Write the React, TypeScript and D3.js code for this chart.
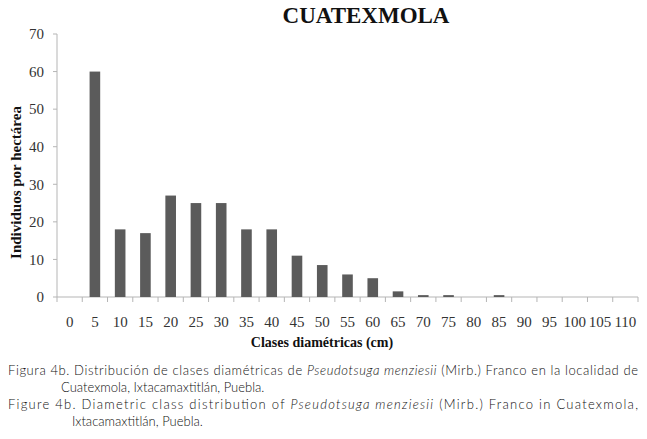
import { useEffect, useRef } from 'react';
import * as d3 from 'd3';

const classes = ['0', '5', '10', '15', '20', '25', '30', '35', '40', '45', '50', '55', '60', '65', '70', '75', '80', '85', '90', '95', '100', '105', '110'];
const individuals = [0, 60, 18, 17, 27, 25, 25, 18, 18, 11, 8.5, 6, 5, 1.5, 0.5, 0.5, 0, 0.5, 0, 0, 0, 0, 0];
const yTicks = [0, 10, 20, 30, 40, 50, 60, 70];

const W = 647;
const H = 439;
const serif = '"Liberation Serif", "DejaVu Serif", serif';
const sans = 'Lato, "Noto Sans", sans-serif';

export default function App() {
  const svgRef = useRef<SVGSVGElement>(null);

  useEffect(() => {
    if (!svgRef.current) return;
    const svg = d3.select(svgRef.current);
    svg.selectAll('*').remove();

    const left = 57;
    const right = 638;
    const top = 34;
    const bottom = 297;

    const x = d3.scaleBand<string>().domain(classes).range([left, right]).padding(0);
    const y = d3.scaleLinear().domain([0, 70]).range([bottom, top]);

    // title
    svg.append('text')
      .attr('x', 366)
      .attr('y', 23)
      .attr('text-anchor', 'middle')
      .attr('font-family', serif)
      .attr('font-weight', 'bold')
      .attr('font-size', 23)
      .attr('fill', '#111')
      .text('CUATEXMOLA');

    // y axis
    svg.append('line')
      .attr('x1', left).attr('x2', left)
      .attr('y1', top).attr('y2', bottom)
      .attr('stroke', '#b5b5b5');

    yTicks.forEach(t => {
      svg.append('line')
        .attr('x1', left - 4).attr('x2', left)
        .attr('y1', y(t)).attr('y2', y(t))
        .attr('stroke', '#b5b5b5');
      svg.append('text')
        .attr('x', left - 13)
        .attr('y', y(t))
        .attr('dy', '0.35em')
        .attr('text-anchor', 'end')
        .attr('font-family', serif)
        .attr('font-size', 15)
        .attr('fill', '#333')
        .text(t);
    });

    // x axis
    svg.append('line')
      .attr('x1', left).attr('x2', right)
      .attr('y1', bottom).attr('y2', bottom)
      .attr('stroke', '#b5b5b5');

    const bounds = classes.map(c => x(c) as number).concat([right]);
    bounds.forEach(b => {
      svg.append('line')
        .attr('x1', b).attr('x2', b)
        .attr('y1', bottom).attr('y2', bottom + 5)
        .attr('stroke', '#b5b5b5');
    });

    classes.forEach(c => {
      svg.append('text')
        .attr('x', (x(c) as number) + x.bandwidth() / 2)
        .attr('y', 327)
        .attr('text-anchor', 'middle')
        .attr('font-family', serif)
        .attr('font-size', 15)
        .attr('fill', '#333')
        .text(c);
    });

    // bars
    const barW = x.bandwidth() * 0.42;
    svg.append('g')
      .selectAll('rect')
      .data(individuals.map((v, i) => ({ c: classes[i], v })).filter(d => d.v > 0))
      .join('rect')
      .attr('x', d => (x(d.c) as number) + (x.bandwidth() - barW) / 2)
      .attr('y', d => y(d.v))
      .attr('width', barW)
      .attr('height', d => bottom - y(d.v))
      .attr('fill', '#5b5b5b');

    // axis titles
    svg.append('text')
      .attr('x', 322)
      .attr('y', 347)
      .attr('text-anchor', 'middle')
      .attr('font-family', serif)
      .attr('font-weight', 'bold')
      .attr('font-size', 14)
      .attr('fill', '#111')
      .text('Clases diamétricas (cm)');

    svg.append('text')
      .attr('transform', `translate(21, ${(top + bottom) / 2 + 17}) rotate(-90)`)
      .attr('text-anchor', 'middle')
      .attr('font-family', serif)
      .attr('font-weight', 'bold')
      .attr('font-size', 15)
      .attr('fill', '#111')
      .text('Individuos por hectárea');

    // caption
    const cap = svg.append('g')
      .attr('font-family', sans)
      .attr('font-weight', 300)
      .attr('font-size', 13)
      .attr('fill', '#111');

    const line1 = cap.append('text')
      .attr('x', 8).attr('y', 375)
      .attr('textLength', 630)
      .attr('lengthAdjust', 'spacing');
    line1.append('tspan').text('Figura 4b. Distribución de clases diamétricas de ');
    line1.append('tspan').attr('font-style', 'italic').text('Pseudotsuga menziesii');
    line1.append('tspan').text(' (Mirb.) Franco en la localidad de');

    cap.append('text')
      .attr('x', 61).attr('y', 392)
      .text('Cuatexmola, Ixtacamaxtitlán, Puebla.');

    const line3 = cap.append('text')
      .attr('x', 8).attr('y', 409)
      .attr('textLength', 630)
      .attr('lengthAdjust', 'spacing');
    line3.append('tspan').text('Figure 4b. Diametric class distribution of ');
    line3.append('tspan').attr('font-style', 'italic').text('Pseudotsuga menziesii');
    line3.append('tspan').text(' (Mirb.) Franco in Cuatexmola,');

    cap.append('text')
      .attr('x', 72).attr('y', 426)
      .text('Ixtacamaxtitlán, Puebla.');
  }, []);

  return (
    <svg
      ref={svgRef}
      width={W}
      height={H}
      style={{ position: 'absolute', left: 0, top: 0, background: '#fff' }}
    />
  );
}
